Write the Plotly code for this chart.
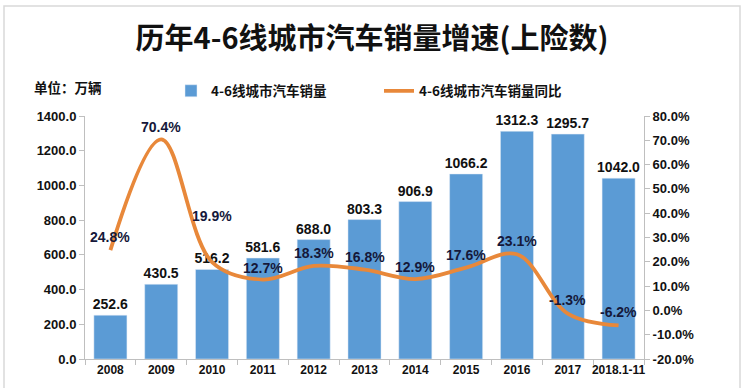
import plotly.graph_objects as go

categories = ["2008", "2009", "2010", "2011", "2012", "2013", "2014", "2015", "2016", "2017", "2018.1-11"]
sales = [252.6, 430.5, 516.2, 581.6, 688.0, 803.3, 906.9, 1066.2, 1312.3, 1295.7, 1042.0]
growth = [24.8, 70.4, 19.9, 12.7, 18.3, 16.8, 12.9, 17.6, 23.1, -1.3, -6.2]
left_ticks = [0, 200, 400, 600, 800, 1000, 1200, 1400]
right_ticks = [-20, -10, 0, 10, 20, 30, 40, 50, 60, 70, 80]

# label offsets (style, in px)
label_shift = [13, 12, 46, 12, 13, 13, 12, 13, 13, 14, 13]

W, H = 744, 388
L, R, T, B = 85, 100, 116, 29
pw, ph = W - L - R, H - T - B

def px2x(px):
    return (px - L) / pw

def px2y(py):
    return (H - B - py) / ph

BOLD = "Liberation Sans, Arial, sans-serif"
CJK = "Noto Sans CJK SC, sans-serif"

fig = go.Figure()
fig.add_trace(go.Bar(
    x=categories, y=sales, name="4-6线城市汽车销量",
    marker=dict(color="#5B9BD5"),
    text=[f"{v:.1f}" for v in sales], textposition="outside", constraintext="none",
    textfont=dict(family=BOLD, size=14, color="#111111", weight="bold"),
    cliponaxis=False,
))
fig.add_trace(go.Scatter(
    x=categories, y=growth, name="4-6线城市汽车销量同比", yaxis="y2",
    mode="lines", line=dict(color="#E8883A", width=3.8, shape="spline", smoothing=1.0),
))

for i, (g, s) in enumerate(zip(growth, label_shift)):
    fig.add_annotation(x=i, y=g, xref="x", yref="y2", text=f"<b>{g:.1f}%</b>",
                       showarrow=False, yshift=s,
                       font=dict(family=BOLD, size=14, color="#15183a"))

fig.add_annotation(x=px2x(32), y=px2y(87), xref="paper", yref="paper", xanchor="left",
                   yanchor="middle", text="<b>单位：万辆</b>", showarrow=False,
                   font=dict(family=CJK, size=13.5, color="#111111"))

fig.add_shape(type="rect", xref="paper", yref="paper",
              x0=px2x(4), x1=px2x(740), y0=px2y(400), y1=px2y(6),
              line=dict(color="#D9D9D9", width=1.5), layer="below")

fig.update_layout(
    width=W, height=H,
    margin=dict(l=L, r=R, t=T, b=B, autoexpand=False),
    paper_bgcolor="white", plot_bgcolor="white",
    title=dict(text="<b>历年4-6线城市汽车销量增速(上险数)</b>", x=0.5, xanchor="center",
               y=1 - 39 / H, yanchor="middle",
               font=dict(family=CJK, size=29, color="#111111")),
    bargap=0.35,
    showlegend=True,
    legend=dict(orientation="h", x=px2x(171), y=px2y(91), xanchor="left", yanchor="middle",
                font=dict(family=CJK, size=13.5, color="#111111", weight="bold"), entrywidth=163,
                itemwidth=30, bgcolor="rgba(0,0,0,0)"),
    xaxis=dict(type="category", range=[-0.5, len(categories) - 0.5],
               showline=True, linecolor="#BFBFBF", ticks="outside",
               tickson="boundaries", tickcolor="#BFBFBF", ticklen=5, tickangle=0,
               automargin=False,
               tickfont=dict(family=BOLD, size=12, color="#111111", weight="bold"),
               showgrid=False),
    yaxis=dict(range=[0, 1400], tickvals=left_ticks,
               ticktext=[f"{v:.1f}" for v in left_ticks], automargin=False,
               showline=True, linecolor="#BFBFBF", ticks="outside", tickcolor="#BFBFBF",
               ticklen=5, showgrid=False, zeroline=False,
               tickfont=dict(family=BOLD, size=13, color="#111111", weight="bold")),
    yaxis2=dict(range=[-20, 80], tickvals=right_ticks,
                ticktext=[f"{v:.1f}%" for v in right_ticks], automargin=False,
                overlaying="y", side="right", showline=True, linecolor="#BFBFBF",
                ticks="outside", tickcolor="#BFBFBF", ticklen=5, showgrid=False,
                zeroline=False,
                tickfont=dict(family=BOLD, size=13, color="#111111", weight="bold")),
)

fig.write_html("out.html", config={"displayModeBar": False},
               post_script="document.body.style.margin='0';document.body.style.overflow='hidden';")
